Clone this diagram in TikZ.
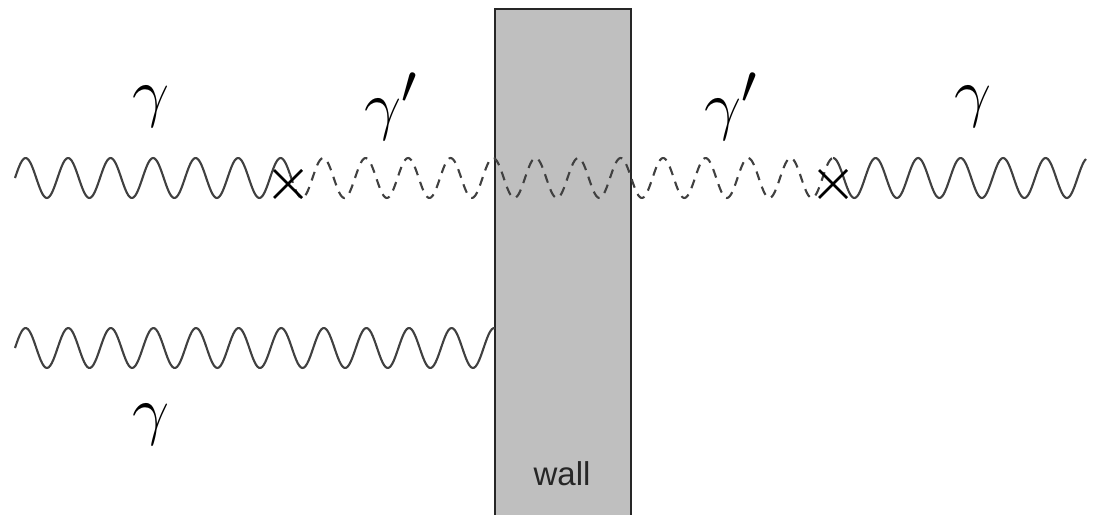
\documentclass[tikz,border=0pt]{standalone}
\usepackage{graphicx}
\usepackage{fontspec}
\newfontfamily\wallfont{Liberation Sans}
\newcommand{\biglbl}[1]{\scalebox{2.65}{\Huge$#1$}}
\begin{document}
\begin{tikzpicture}[x=1pt,y=-1pt,
  wave/.style={line width=2.1pt,color=black!75,line join=round},
  dashwave/.style={wave,dash pattern=on 9pt off 7pt},
  cross/.style={line width=2.6pt,black},
  lbl/.style={inner sep=0pt},
  wallbox/.style={draw=black!85,line width=2pt,fill=black!25}]
\useasboundingbox (0,0) rectangle (1097,514);
% wall
\path[wallbox] (495,540) -- (495,9) -- (631,9) -- (631,540);
\node[inner sep=0pt,font=\wallfont\fontsize{33}{36}\selectfont,text=black!85] (walltext) at (562,474) {wall};
% top wave
\draw[wave] plot[domain=15:290,samples=200] (\x,{178-20*sin((\x-15)/42.5*360)});
\draw[dashwave] plot[domain=290:833,samples=400] (\x,{178-20*sin((\x-15)/42.5*360)});
\draw[wave] plot[domain=833:1086,samples=200] (\x,{178-20*sin((\x-15)/42.5*360)});
% bottom wave
\draw[wave] plot[domain=15:495,samples=300] (\x,{348-20*sin((\x-15)/42.6*360)});
% crosses
\coordinate (c1) at (288,184);
\coordinate (c2) at (833,184);
\foreach \c in {c1,c2}{
  \draw[cross] ([shift={(-14,-14)}]\c) -- ([shift={(14,14)}]\c);
  \draw[cross] ([shift={(-14,14)}]\c) -- ([shift={(14,-14)}]\c);
}
% labels
\node[lbl] (g1) at (151,107) {\biglbl{\gamma}};
\node[lbl] (g2) at (391,107) {\biglbl{\gamma'}};
\node[lbl] (g3) at (731,107) {\biglbl{\gamma'}};
\node[lbl] (g4) at (973,107) {\biglbl{\gamma}};
\node[lbl] (g5) at (151,425) {\biglbl{\gamma}};
\end{tikzpicture}
\end{document}
